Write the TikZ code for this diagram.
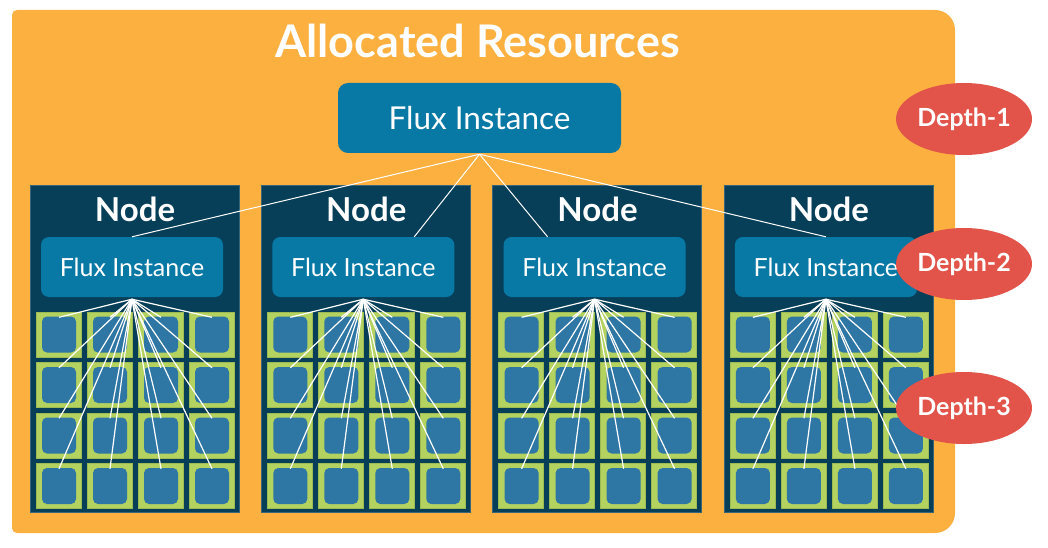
\documentclass[tikz,border=0pt]{standalone}
\usepackage{fontspec}
\setmainfont{Lato}
\usetikzlibrary{shapes.geometric}
\definecolor{orangebg}{HTML}{FBB040}
\definecolor{navy}{HTML}{073F59}
\definecolor{fluxblue}{HTML}{0878A5}
\definecolor{cellgreen}{HTML}{B3D25F}
\definecolor{celledge}{HTML}{9DBA55}
\definecolor{sqblue}{HTML}{2E76A3}
\definecolor{depthred}{HTML}{E2534A}
\tikzset{
  nodebox/.style={draw=navy!80!white, line width=0.6pt, fill=navy, minimum width=209pt, minimum height=327pt, inner sep=0pt},
  nodetitle/.style={text=white, font=\fontsize{33}{38}\selectfont\bfseries, inner sep=0pt},
  fluxbig/.style={fill=fluxblue, rounded corners=10pt, minimum width=283pt, minimum height=70pt, inner sep=0pt, text=white, font=\fontsize{31.5}{36}\selectfont},
  fluxsmall/.style={fill=fluxblue, rounded corners=8pt, minimum width=182pt, minimum height=60pt, inner sep=0pt, text=white, font=\fontsize{25}{30}\selectfont},
  cellbox/.style={fill=cellgreen, draw=celledge, line width=0.6pt, minimum width=45pt, minimum height=45pt, inner sep=0pt},
  sqbox/.style={fill=sqblue, rounded corners=5pt, minimum width=34pt, minimum height=36pt, inner sep=0pt},
  wire/.style={draw=white, line width=1.2pt},
  topwire/.style={draw=white, line width=1pt},
  depth/.style={ellipse, fill=depthred, minimum width=136pt, minimum height=72pt, inner sep=0pt, text=white, font=\fontsize{25}{30}\selectfont\bfseries},
  titletext/.style={text=white, font=\fontsize{45}{52}\selectfont\bfseries, inner sep=0pt}
}
\begin{document}
\begin{tikzpicture}[x=1pt,y=-1pt]
\useasboundingbox (0,0) rectangle (1048,548);
\fill[white] (0,0) rectangle (1048,548);
% allocated resources background
\fill[orangebg] (12,272) [rounded corners=5pt] -- (12,10) [rounded corners=20pt] -- (955,10) -- (955,533) [rounded corners=5pt] -- (12,533) -- cycle;
\node[titletext, anchor=base] (title) at (477.5,58) {Allocated Resources};
\node[fluxbig] (top) at (479.5,118) {Flux Instance};
% compute nodes
\foreach \i in {0,1,2,3}{
  \pgfmathsetmacro\L{30+231.3*\i}
  \node[nodebox] (box\i) at (\L+104.5,348.5) {};
  \node[nodetitle, anchor=base] (nt\i) at (\L+105,221) {Node};
  \node[fluxsmall] (flux\i) at (\L+102,267) {Flux Instance};
  \foreach \j in {0,1,2,3}{
    \foreach \k in {0,1,2,3}{
      \pgfmathsetmacro\cx{\L+6+51*\j+22.5}
      \pgfmathsetmacro\cy{312+50.5*\k+22.5}
      \node[cellbox] (c\i\j\k) at (\cx,\cy) {};
      \node[sqbox] (s\i\j\k) at (\cx+0.5,\cy) {};
    }
  }
}
% connectors
\draw[topwire] ([yshift=-1pt]top.south) -- (flux0.north);
\draw[topwire] ([yshift=-1pt]top.south) -- ([xshift=51pt]flux1.north);
\draw[topwire] ([yshift=-1pt]top.south) -- ([xshift=-47pt]flux2.north);
\draw[topwire] ([yshift=-1pt]top.south) -- (flux3.north);
\foreach \i in {0,1,2,3}{
  \foreach \j in {0,1,2,3}{
    \foreach \k in {0,1,2,3}{
      \draw[wire] ([yshift=-2pt]flux\i.south) -- ([yshift=-1pt]s\i\j\k.north);
    }
  }
}
% depth labels
\node[depth] (d1) at (964,119) {Depth-1};
\node[depth] (d2) at (964,264) {Depth-2};
\node[depth] (d3) at (964,408) {Depth-3};
\end{tikzpicture}
\end{document}
